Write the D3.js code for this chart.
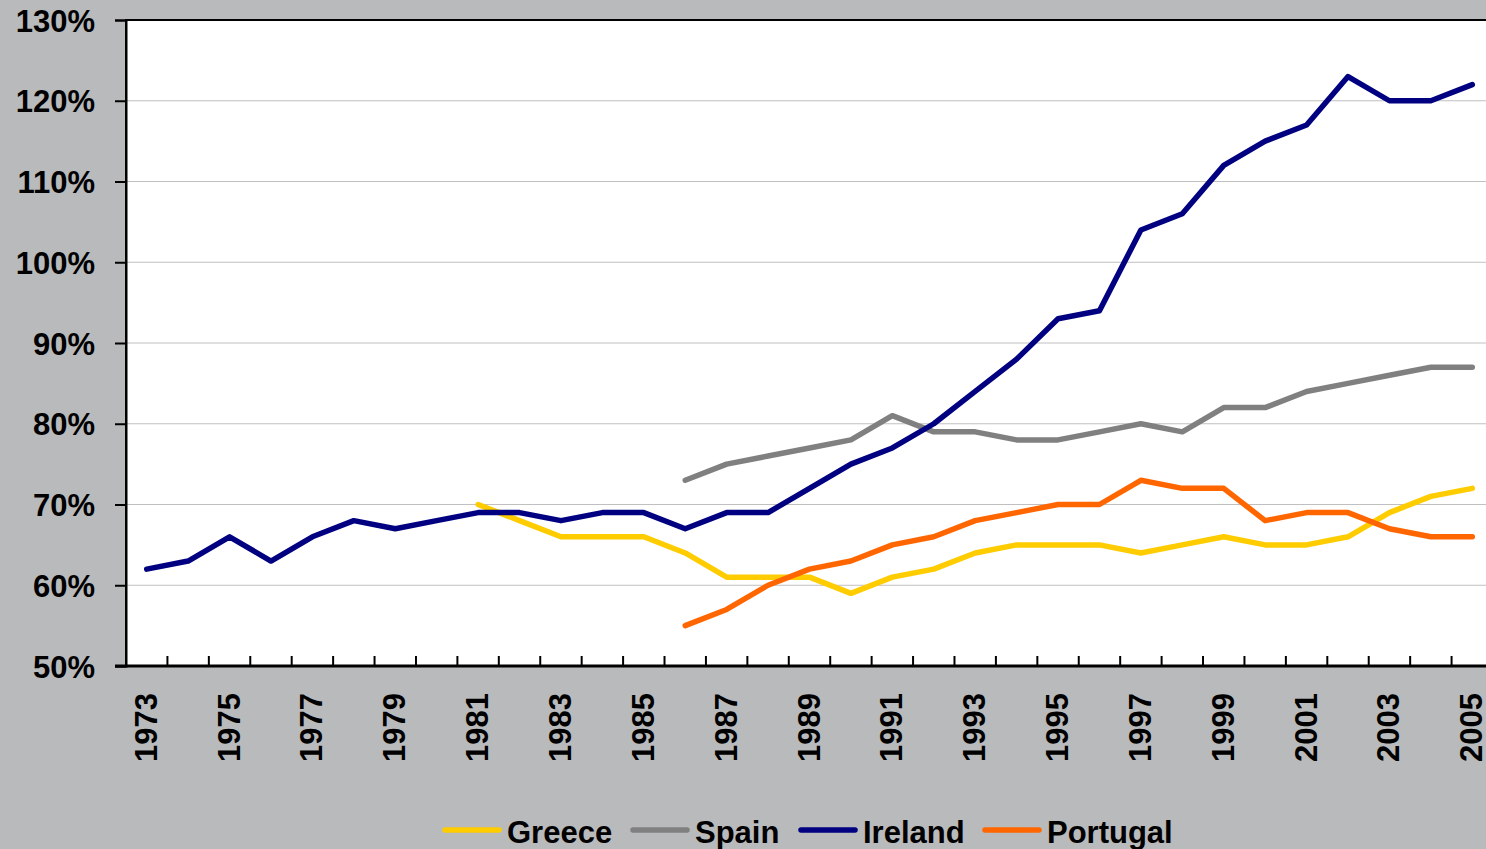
<!DOCTYPE html>
<html>
<head>
<meta charset="utf-8">
<script src="https://cdn.jsdelivr.net/npm/d3@7"></script>
<style>
  html, body { margin: 0; padding: 0; background: #b9babc; overflow: hidden; }
  svg { display: block; font-family: "Liberation Sans", Arial, sans-serif; }
</style>
</head>
<body>
<script>
const years = d3.range(1973, 2006);
const yTicks = [50, 60, 70, 80, 90, 100, 110, 120, 130];

// values in % of EU average (null = no data)
const greece = [null, null, null, null, null, null, null, null,
    70, 68, 66, 66, 66, 64, 61, 61, 61, 59, 61, 62, 64, 65, 65, 65, 64, 65, 66, 65, 65, 66, 69, 71, 72];
const spain = [null, null, null, null, null, null, null, null, null, null, null, null, null,
    73, 75, 76, 77, 78, 81, 79, 79, 78, 78, 79, 80, 79, 82, 82, 84, 85, 86, 87, 87];
const ireland = [62, 63, 66, 63, 66, 68, 67, 68, 69, 69, 68, 69, 69, 67, 69, 69, 72, 75, 77, 80, 84, 88,
    93, 94, 104, 106, 112, 115, 117, 123, 120, 120, 122];
const portugal = [null, null, null, null, null, null, null, null, null, null, null, null, null,
    55, 57, 60, 62, 63, 65, 66, 68, 69, 70, 70, 73, 72, 72, 68, 69, 69, 67, 66, 66];

const seriesNames = ["Greece", "Spain", "Ireland", "Portugal"];
const seriesColors = ["#ffcc00", "#808080", "#000080", "#ff6600"];
const seriesData = [greece, spain, ireland, portugal];

const width = 1486, height = 849;
const margin = { top: 20, right: -7, bottom: 183, left: 126 };

const svg = d3.select("body").append("svg")
    .attr("width", width)
    .attr("height", height);

const x = d3.scaleBand()
    .domain(years)
    .range([margin.left, width - margin.right]);

const y = d3.scaleLinear()
    .domain([50, 130])
    .range([height - margin.bottom, margin.top]);

// plot area
svg.append("rect")
    .attr("x", margin.left)
    .attr("y", margin.top)
    .attr("width", width - margin.right - margin.left)
    .attr("height", y(50) - y(130))
    .attr("fill", "#fff")
    .attr("stroke", "#000")
    .attr("stroke-width", 2);

// gridlines
svg.append("g")
    .selectAll("line")
    .data(yTicks.filter(d => d > 50 && d < 130))
    .join("line")
    .attr("x1", margin.left)
    .attr("x2", width - margin.right)
    .attr("y1", d => y(d))
    .attr("y2", d => y(d))
    .attr("stroke", "#c0c0c0")
    .attr("stroke-width", 1);

// y axis
const yAxis = svg.append("g")
    .attr("transform", `translate(${margin.left},0)`)
    .call(d3.axisLeft(y).tickValues(yTicks).tickSize(11).tickPadding(30).tickFormat(d => d + "%"));
yAxis.select(".domain").attr("stroke", "#000").attr("stroke-width", 2);
yAxis.selectAll(".tick line").attr("stroke", "#000").attr("stroke-width", 2);
yAxis.selectAll(".tick text")
    .attr("x", -31)
    .attr("dy", "0.36em")
    .style("font-size", "31px")
    .style("font-weight", "bold")
    .attr("fill", "#000");

// x axis: ticks at category boundaries, pointing inward
const xg = svg.append("g");
xg.selectAll("line")
    .data(years.slice(1))
    .join("line")
    .attr("x1", d => x(d))
    .attr("x2", d => x(d))
    .attr("y1", y(50))
    .attr("y2", y(50) - 10)
    .attr("stroke", "#000")
    .attr("stroke-width", 2);
xg.append("line")
    .attr("x1", margin.left - 11)
    .attr("x2", width)
    .attr("y1", y(50))
    .attr("y2", y(50))
    .attr("stroke", "#000")
    .attr("stroke-width", 3);

xg.selectAll("text")
    .data(years.filter((d, i) => i % 2 === 0))
    .join("text")
    .attr("transform", d => `translate(${x(d) + x.bandwidth() / 2 + 10},${y(50) + 27}) rotate(-90)`)
    .attr("text-anchor", "end")
    .style("font-size", "31px")
    .style("font-weight", "bold")
    .attr("fill", "#000")
    .text(d => d);

// lines
const line = d3.line()
    .defined(d => d.v != null)
    .x(d => x(d.year) + x.bandwidth() / 2)
    .y(d => y(d.v));

svg.append("g")
    .selectAll("path")
    .data(seriesData.map((s, i) => ({ name: seriesNames[i], color: seriesColors[i], pts: s.map((v, j) => ({ year: years[j], v })) })))
    .join("path")
    .attr("d", d => line(d.pts))
    .attr("fill", "none")
    .attr("stroke", d => d.color)
    .attr("stroke-width", 5.5)
    .attr("stroke-linejoin", "round")
    .attr("stroke-linecap", "round");

// legend
const legendX = [443, 631, 799, 983];
const legend = svg.append("g")
    .selectAll("g")
    .data(seriesNames)
    .join("g")
    .attr("transform", (d, i) => `translate(${legendX[i]},830)`);
legend.append("line")
    .attr("x1", 2)
    .attr("x2", 56)
    .attr("stroke", (d, i) => seriesColors[i])
    .attr("stroke-width", 5.5)
    .attr("stroke-linecap", "round");
legend.append("text")
    .attr("x", 64)
    .attr("y", 13)
    .style("font-size", "31px")
    .style("font-weight", "bold")
    .attr("fill", "#000")
    .text(d => d);
</script>
</body>
</html>
